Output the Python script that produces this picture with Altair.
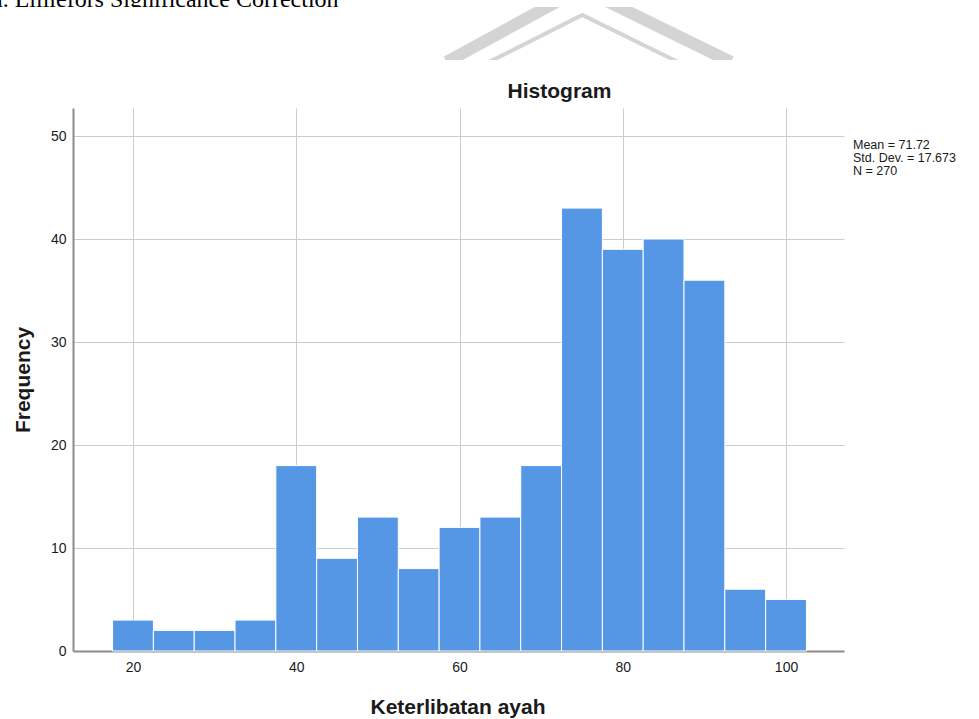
import altair as alt
import pandas as pd

# Histogram of "Keterlibatan ayah" (bin width 5, starting at 17.5)
bin_starts = [17.5, 22.5, 27.5, 32.5, 37.5, 42.5, 47.5, 52.5, 57.5,
              62.5, 67.5, 72.5, 77.5, 82.5, 87.5, 92.5, 97.5]
bin_width = 5
counts = [3, 2, 2, 3, 18, 9, 13, 8, 12, 13, 18, 43, 39, 40, 36, 6, 5]

x_ticks = [20, 40, 60, 80, 100]
y_ticks = [0, 10, 20, 30, 40, 50]

mean_value = 71.72
std_value = 17.673

FONT = "Liberation Sans"
BAR_COLOR = "#5596e5"
GRID_COLOR = "#cccccc"
AXIS_COLOR = "#8c8c8c"
TEXT_COLOR = "#1a1a1a"

# plot-area geometry (pixels)
LEFT, TOP = 73, 108
PLOT_W, PLOT_H = 771, 543
PAGE_W, PAGE_H = 979, 719

bars_df = pd.DataFrame({
    "start": bin_starts,
    "end": [s + bin_width for s in bin_starts],
    "count": counts,
})

x_scale = alt.Scale(domain=[12.65, 107.1], nice=False, zero=False)
y_scale = alt.Scale(domain=[0, 52.72], nice=False)

bars = alt.Chart(bars_df).mark_bar(
    color=BAR_COLOR, stroke="white", strokeWidth=1, opacity=1
).encode(
    x=alt.X("start:Q", scale=x_scale,
            axis=alt.Axis(values=x_ticks, title="Keterlibatan ayah",
                          grid=True, ticks=False, labelPadding=9,
                          titleX=PLOT_W / 2 - 1, titleY=62,
                          titleBaseline="alphabetic", titleAlign="center")),
    x2="end:Q",
    y=alt.Y("count:Q", scale=y_scale,
            axis=alt.Axis(values=y_ticks, title="Frequency",
                          grid=True, ticks=False, labelPadding=7,
                          titleX=-44, titleY=PLOT_H / 2, titleAngle=270,
                          titleBaseline="alphabetic", titleAlign="center")),
    y2=alt.datum(0),
)

# summary statistics beside the plot
stats_lines = [
    f"Mean = {mean_value:.2f}",
    f"Std. Dev. = {std_value:.3f}",
    f"N = {sum(counts)}",
]
stats = alt.Chart(pd.DataFrame({"t": ["\n".join(stats_lines)]})).mark_text(
    align="left", baseline="alphabetic", font=FONT, fontSize=12.5,
    lineHeight=13, lineBreak="\n", color=TEXT_COLOR,
).encode(
    text="t:N",
    x=alt.value(853 - LEFT),
    y=alt.value(149 - TOP),
)

heading = alt.Chart(pd.DataFrame({"t": ["Histogram"]})).mark_text(
    align="center", baseline="alphabetic", font=FONT, fontSize=21,
    fontWeight="bold", color=TEXT_COLOR,
).encode(
    text="t:N",
    x=alt.value(559.5 - LEFT),
    y=alt.value(98 - TOP),
)

# page header line above the figure, cut off by the figure's top edge
header = alt.Chart(pd.DataFrame({"t": ["a. Lilliefors Significance Correction"]})).mark_text(
    align="left", baseline="alphabetic", font="Liberation Serif", fontSize=24,
    color="#000000",
).encode(
    text="t:N",
    x=alt.value(-8 - LEFT),
    y=alt.value(7 - TOP),
)

# faint chevron emblem behind the top of the figure
emblem_df = pd.DataFrame({
    "px": [446.5, 581.0, 731.0, 489.0, 582.3, 678.0],
    "py": [62.0, -11.5, 62.0, 62.0, 15.0, 62.0],
    "part": ["outer", "outer", "outer", "inner", "inner", "inner"],
    "order": [0, 1, 2, 0, 1, 2],
})
emblem_df["px"] = emblem_df["px"] - LEFT
emblem_df["py"] = emblem_df["py"] - TOP

outer = alt.Chart(emblem_df[emblem_df.part == "outer"]).mark_line(
    color="#d4d4d4", strokeWidth=12, strokeCap="butt", strokeJoin="miter"
).encode(
    x=alt.X("px:Q", scale=None), y=alt.Y("py:Q", scale=None), order="order:Q"
)
inner = alt.Chart(emblem_df[emblem_df.part == "inner"]).mark_line(
    color="#d4d4d4", strokeWidth=4, strokeCap="butt", strokeJoin="miter"
).encode(
    x=alt.X("px:Q", scale=None), y=alt.Y("py:Q", scale=None), order="order:Q"
)

mask_src = pd.DataFrame({"k": [0]})


def white_box(x0, y0, x1, y1):
    return alt.Chart(mask_src).mark_rect(color="white").encode(
        x=alt.value(x0 - LEFT), x2=alt.value(x1 - LEFT),
        y=alt.value(y0 - TOP), y2=alt.value(y1 - TOP),
    )


layers = [
    outer, inner,
    white_box(400, -20, 780, 7),     # trims emblem at the top
    white_box(400, 60, 780, 80),     # trims emblem at the bottom
    header,
    white_box(-20, 7, 400, 40),      # trims header text
    bars, stats, heading,
]

chart = alt.layer(*layers).properties(
    width=PLOT_W,
    height=PLOT_H,
    padding={"left": LEFT, "top": TOP,
             "right": PAGE_W - LEFT - PLOT_W, "bottom": PAGE_H - TOP - PLOT_H},
    autosize=alt.AutoSizeParams(type="none"),
).configure_view(
    stroke=None
).configure_axis(
    domainColor=AXIS_COLOR, domainWidth=2,
    gridColor=GRID_COLOR, gridWidth=1, gridOpacity=1,
    labelFont=FONT, labelFontSize=14, labelColor=TEXT_COLOR,
    titleFont=FONT, titleFontSize=21, titleFontWeight="bold",
    titleColor=TEXT_COLOR,
)

chart.save("out.html", embed_options={"renderer": "svg", "actions": False})
